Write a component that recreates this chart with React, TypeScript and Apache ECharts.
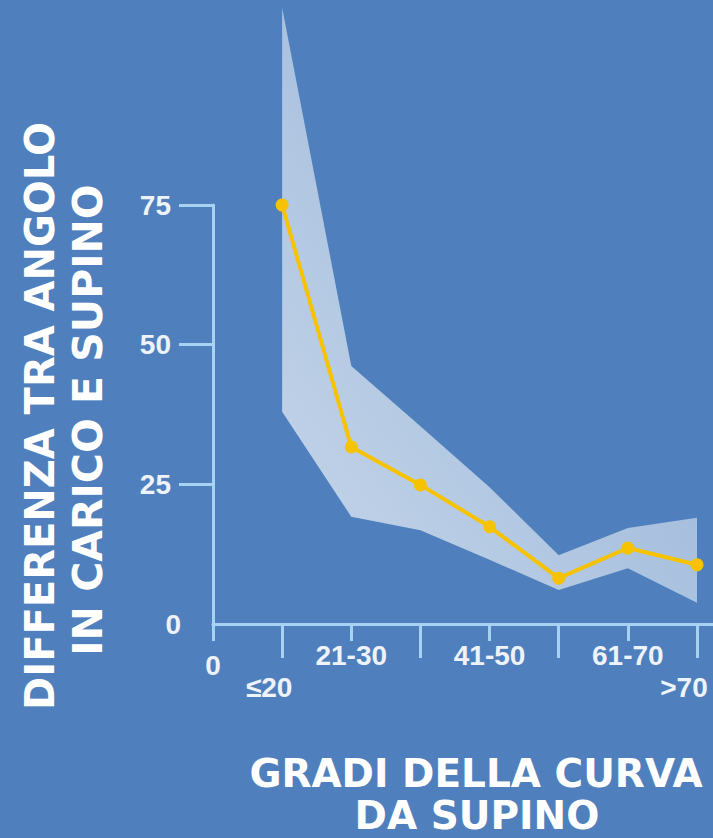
import React, { useEffect, useRef } from "react";
import * as echarts from "echarts";

const categories = ["0", "≤20", "21-30", "31-40", "41-50", "51-60", "61-70", ">70"];
const meanDiff: (number | null)[] = [null, 75, 31.7, 24.9, 17.4, 8.2, 13.6, 10.6];
const upperBand: (number | null)[] = [null, 110.3, 46.2, 35.4, 24.5, 12.3, 17.2, 19.0];
const lowerBand: (number | null)[] = [null, 38.0, 19.2, 16.8, 11.5, 6.1, 10.0, 3.8];
const yTicks = [25, 50, 75];
const shownXLabels = ["0", "≤20", "21-30", "41-50", "61-70", ">70"];
const lowRowLabels = ["≤20", ">70"];
const yTitle1 = "DIFFERENZA TRA ANGOLO";
const yTitle2 = "IN CARICO E SUPINO";
const xTitle1 = "GRADI DELLA CURVA";
const xTitle2 = "DA SUPINO";

const BG = "#4f80bd";
const AXIS = "#a8d2f2";
const LABEL = "#eef3fa";
const YELLOW = "#f7c300";
const TITLE_FONT = "'DejaVu Sans', sans-serif";
const TICK_FONT = "'Liberation Sans', Arial, sans-serif";

export default function App() {
  const ref = useRef<HTMLDivElement>(null);
  useEffect(() => {
    if (!ref.current) return;
    const chart = echarts.init(ref.current, undefined, { renderer: "svg" });
    const bandDiff = upperBand.map((u, i) =>
      u == null || lowerBand[i] == null ? "-" : +(u - (lowerBand[i] as number)).toFixed(2)
    );
    const labelStyle = { color: LABEL, fontFamily: TICK_FONT, fontWeight: "bold" as const, fontSize: 28 };
    chart.setOption({
      animation: false,
      backgroundColor: BG,
      grid: { left: 213, right: 16, top: 205, bottom: 214, containLabel: false },
      xAxis: [
        {
          type: "category",
          data: categories,
          boundaryGap: false,
          position: "bottom",
          axisLine: { show: true, lineStyle: { color: AXIS, width: 3 } },
          axisTick: {
            show: true,
            length: 17,
            interval: (i: number) => i % 2 === 0,
            lineStyle: { color: AXIS, width: 3 },
          },
          axisLabel: {
            show: true,
            interval: 0,
            margin: 17,
            ...labelStyle,
            formatter: (v: string) => {
              if (!shownXLabels.includes(v)) return "";
              if (lowRowLabels.includes(v)) return "{low|" + v + "}";
              if (v === "0") return "{zero|0}";
              return v;
            },
            rich: {
              low: { ...labelStyle, padding: [32, 26, 0, 0] },
              zero: { ...labelStyle, padding: [10, 0, 0, 0] },
            },
          },
          splitLine: { show: false },
        },
        {
          type: "category",
          data: categories,
          boundaryGap: false,
          position: "bottom",
          axisLine: { show: false },
          axisTick: {
            show: true,
            length: 34,
            interval: (i: number) => i % 2 === 1,
            lineStyle: { color: AXIS, width: 3 },
          },
          axisLabel: { show: false },
          splitLine: { show: false },
        },
      ],
      yAxis: [
        {
          type: "value",
          min: 0,
          max: 75,
          interval: 25,
          axisLine: { show: true, lineStyle: { color: AXIS, width: 3 } },
          axisTick: {
            show: true,
            length: 34,
            customValues: yTicks,
            lineStyle: { color: AXIS, width: 3 },
          },
          axisLabel: {
            show: true,
            margin: 32,
            ...labelStyle,
            formatter: (v: number) => (v === 0 ? "0" : "{p|" + v + "}"),
            rich: { p: { ...labelStyle, padding: [0, 10, 0, 0] } },
          },
          splitLine: { show: false },
        },
        {
          type: "value",
          min: 0,
          max: 75,
          interval: 25,
          axisLine: { show: false },
          axisTick: {
            show: true,
            length: 17,
            customValues: [0],
            lineStyle: { color: AXIS, width: 3 },
          },
          axisLabel: { show: false },
          splitLine: { show: false },
        },
      ],
      series: [
        {
          type: "line",
          data: lowerBand.map((v) => (v == null ? "-" : v)),
          stack: "band",
          symbol: "none",
          clip: false,
          lineStyle: { opacity: 0, width: 0 },
          silent: true,
          z: 1,
        },
        {
          type: "line",
          data: bandDiff,
          stack: "band",
          symbol: "none",
          clip: false,
          lineStyle: { opacity: 0, width: 0 },
          areaStyle: {
            opacity: 1,
            color: new echarts.graphic.LinearGradient(0, 1, 1, 0, [
              { offset: 0, color: "rgba(255,255,255,0.68)" },
              { offset: 1, color: "rgba(255,255,255,0.36)" },
            ]),
          },
          silent: true,
          z: 1,
        },
        {
          type: "line",
          data: meanDiff.map((v) => (v == null ? "-" : v)),
          symbol: "circle",
          symbolSize: 13,
          clip: false,
          itemStyle: { color: YELLOW },
          lineStyle: { color: YELLOW, width: 4 },
          z: 3,
        },
      ],
      graphic: [
        {
          type: "text",
          x: 40,
          y: 416,
          rotation: Math.PI / 2,
          style: {
            text: yTitle1,
            x: 0,
            y: 0,
            align: "center",
            verticalAlign: "middle",
            fill: "#ffffff",
            font: "bold 40px " + TITLE_FONT,
          },
        },
        {
          type: "text",
          x: 88,
          y: 420,
          rotation: Math.PI / 2,
          style: {
            text: yTitle2,
            x: 0,
            y: 0,
            align: "center",
            verticalAlign: "middle",
            fill: "#ffffff",
            font: "bold 41px " + TITLE_FONT,
          },
        },
        {
          type: "text",
          x: 476,
          y: 773,
          style: {
            text: xTitle1,
            x: 0,
            y: 0,
            align: "center",
            verticalAlign: "middle",
            fill: "#ffffff",
            font: "bold 39px " + TITLE_FONT,
          },
        },
        {
          type: "text",
          x: 477,
          y: 815,
          style: {
            text: xTitle2,
            x: 0,
            y: 0,
            align: "center",
            verticalAlign: "middle",
            fill: "#ffffff",
            font: "bold 39px " + TITLE_FONT,
          },
        },
      ],
    });
    return () => chart.dispose();
  }, []);
  return (
    <div
      ref={ref}
      style={{ position: "fixed", left: 0, top: 0, width: 713, height: 838 }}
    />
  );
}
